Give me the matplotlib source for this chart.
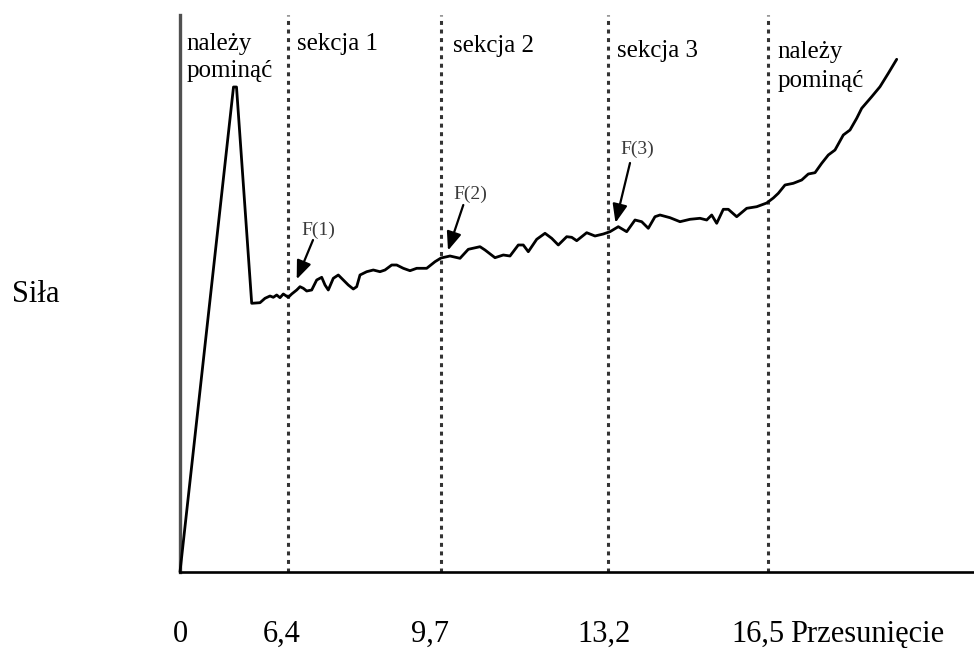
import matplotlib
matplotlib.use("Agg")
import matplotlib.pyplot as plt

plt.rcParams['font.family'] = ['Liberation Serif', 'DejaVu Serif']
plt.rcParams['lines.scale_dashes'] = True

# ---- data (x: position along displacement axis, y: force; arbitrary units) ----
curve_x = [0, 53.5, 56.5, 71.7, 80, 85, 90, 93.3, 96.7, 100, 103.3, 108.3, 111.7,
           116.7, 120, 123.3, 126.7, 131.7, 136.7, 141.7, 145, 148.3, 153.3, 158.3,
           163.3, 168.3, 173.3, 176.7, 180, 186.7, 193.3, 200, 205, 211.7, 216.7,
           223.3, 230, 236.7, 246.7, 255, 261, 270, 280, 288.3, 300, 305, 315, 323.3,
           330, 338.3, 343.3, 348.3, 356.7, 365, 371.7, 378.3, 386.7, 391.7, 396.7,
           406.7, 415, 423.3, 430, 438.3, 446.7, 455, 461.7, 468.3, 475, 480, 490,
           500, 510, 520, 526.7, 531.7, 536.7, 543.3, 548.3, 556.7, 566.7, 576.7,
           586.7, 593.3, 598.3, 605, 613.3, 621.7, 628.3, 635, 641.7, 648.3, 655,
           663.3, 670, 676.7, 681.7, 691.7, 700, 708.3, 716.7]
curve_y = [0, 485, 485, 268.7, 269.3, 273.7, 276, 274.7, 277, 274.3, 278, 274.7, 278,
           282, 285.3, 283.7, 281, 282, 292, 294.7, 287, 282, 293.7, 297, 292, 287,
           283, 285.3, 297, 300.3, 302, 300.3, 302, 307, 307, 303.7, 301.3, 303.7,
           303.7, 310.3, 314, 316, 313.7, 322.7, 325.3, 322, 314.3, 317, 316, 327,
           327, 320.3, 332.7, 338.7, 333.7, 327, 335.3, 334.7, 331.3, 339.3, 336,
           338, 340.3, 345.3, 340.3, 352, 350.3, 343.7, 355.3, 357, 354.3, 350.3,
           352.7, 353.7, 352, 357, 348.7, 362.7, 362.7, 355.3, 363.7, 365.3, 369,
           374, 378.7, 387, 388.7, 392, 398, 399.3, 408.7, 417, 422, 437, 442,
           453.7, 463.7, 475.3, 485.3, 498.7, 512.7]

boundaries = [108, 261, 428, 588]                 # section limits (6,4 / 9,7 / 13,2 / 16,5)
tick_pos = [0, 102, 250, 424, 578]
tick_labels = ["0", "6,4", "9,7", "13,2", "16,5"]
section_labels = ["sekcja 1", "sekcja 2", "sekcja 3"]
section_label_x = [116.7, 272.7, 436.7]
section_label_y = [522, 520.3, 515.3]
skip_text = ["należy", "pominąć"]
f_labels = ["F(1)", "F(2)", "F(3)"]
f_label_xy = [(138, 342), (290, 378), (457, 423)]
f_arrow_tail = [(133, 332), (283.3, 367), (450, 409)]
f_arrow_head = [(116.7, 292.7), (268, 321.5), (435.5, 349.2)]
x_label = "Przesunięcie"
y_label = "Siła"

# ---- figure ----
W, H = 974, 648
fig = plt.figure(figsize=(W / 100, H / 100), dpi=100)
ax = fig.add_axes([180 / W, (H - 572) / H, (W - 180) / W, (572 - 15) / H])
ax.set_xlim(0, 794)
ax.set_ylim(0, 557)

for s in ['top', 'right']:
    ax.spines[s].set_visible(False)
ax.spines['left'].set_color('#505050')
ax.spines['left'].set_linewidth(2.4)
ax.spines['bottom'].set_color('black')
ax.spines['bottom'].set_linewidth(1.9)
ax.set_yticks([])
ax.set_xticks([])

# section boundary lines
ax.vlines(boundaries, 0, 557, colors='#333333', linewidth=2.2,
          linestyles=(0, (1.3, 1.5)), zorder=2)

# curve
ax.plot(curve_x, curve_y, color='black', linewidth=2.0,
        solid_joinstyle='round', solid_capstyle='round', clip_on=False, zorder=3)

# tick labels and axis labels
for p, lab in zip(tick_pos, tick_labels):
    ax.text(p, -69.7, lab, ha='center', va='baseline', fontsize=22, clip_on=False)
ax.text(610, -69.7, x_label, ha='left', va='baseline', fontsize=22, clip_on=False)
ax.text(-168, 270.3, y_label, ha='left', va='baseline', fontsize=22, clip_on=False)

# section texts
for lab, sx, sy in zip(section_labels, section_label_x, section_label_y):
    ax.text(sx, sy, lab, ha='left', va='baseline', fontsize=18)
ax.text(6.7, 522, skip_text[0], ha='left', va='baseline', fontsize=18)
ax.text(6.7, 495, skip_text[1], ha='left', va='baseline', fontsize=18)
ax.text(597.3, 514, skip_text[0], ha='left', va='baseline', fontsize=18)
ax.text(597.3, 485, skip_text[1], ha='left', va='baseline', fontsize=18)

# F markers with arrows
for lab, (lx, ly), tail, head in zip(f_labels, f_label_xy, f_arrow_tail, f_arrow_head):
    ax.text(lx, ly, lab, ha='center', va='center', fontsize=14, color='#3a3a3a')
    ax.annotate('', xy=head, xytext=tail,
                arrowprops=dict(arrowstyle='-|>,head_length=0.8,head_width=0.32',
                                color='black', lw=1.6, shrinkA=0, shrinkB=0,
                                mutation_scale=14))

fig.savefig('out.png', dpi=100)
